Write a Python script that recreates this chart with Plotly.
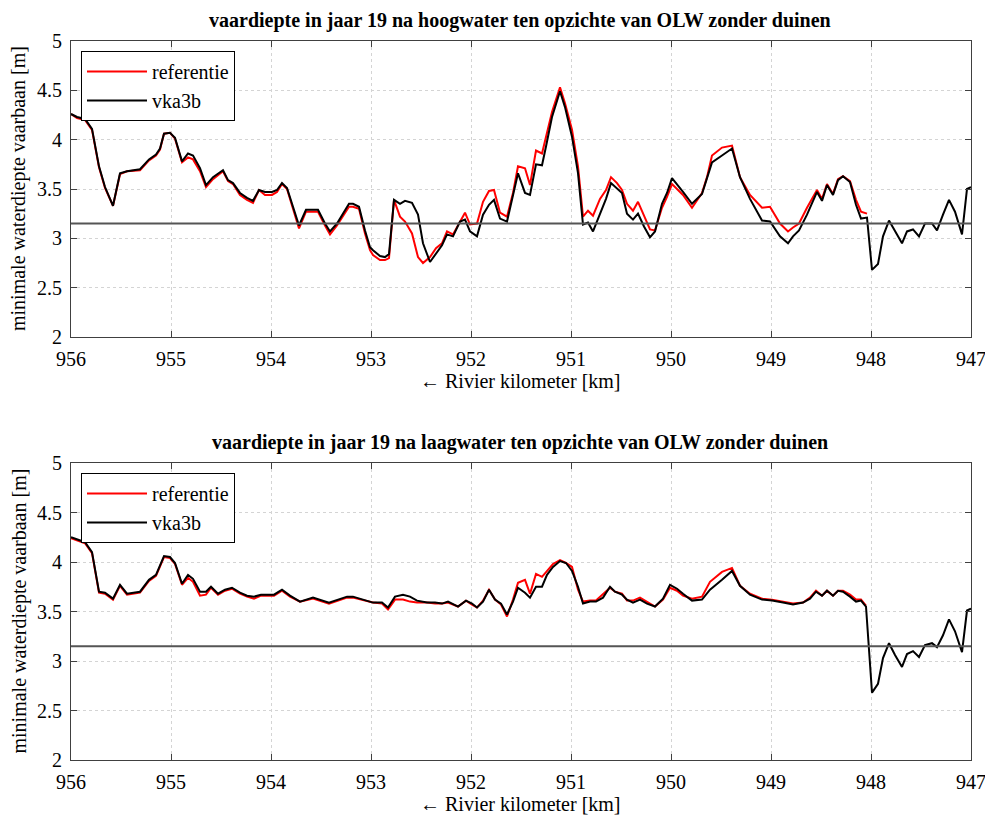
import plotly.graph_objects as go

# ---------------- data: top panel (hoogwater) ----------------
km_top = [956.00, 955.94, 955.86, 955.79, 955.72, 955.66, 955.58, 955.51, 955.44, 955.31,
          955.22, 955.15, 955.11, 955.07, 955.01, 954.96, 954.89, 954.83, 954.78, 954.71,
          954.65, 954.58, 954.48, 954.43, 954.38, 954.31, 954.24, 954.18, 954.12, 954.06,
          953.99, 953.94, 953.89, 953.84, 953.78, 953.72, 953.65, 953.58, 953.53, 953.46,
          953.41, 953.34, 953.28, 953.22, 953.18, 953.12, 953.06, 953.01, 952.98, 952.91,
          952.86, 952.82, 952.77, 952.71, 952.66, 952.59, 952.53, 952.48, 952.41, 952.35,
          952.29, 952.24, 952.18, 952.11, 952.06, 952.01, 951.94, 951.88, 951.82, 951.77,
          951.71, 951.64, 951.58, 951.53, 951.46, 951.41, 951.35, 951.29, 951.25, 951.19,
          951.11, 951.06, 950.99, 950.93, 950.88, 950.83, 950.78, 950.71, 950.65, 950.60,
          950.54, 950.49, 950.44, 950.38, 950.33, 950.27, 950.21, 950.16, 950.09, 950.04,
          949.99, 949.94, 949.88, 949.79, 949.69, 949.64, 949.59, 949.49, 949.39, 949.31,
          949.21, 949.09, 949.01, 948.91, 948.83, 948.78, 948.72, 948.64, 948.54, 948.49,
          948.44, 948.38, 948.33, 948.28, 948.21, 948.15, 948.10, 948.04, 947.99, 947.93,
          947.88, 947.82, 947.76, 947.69, 947.64, 947.58, 947.52, 947.46, 947.39, 947.34,
          947.28, 947.22, 947.16, 947.09, 947.04, 947.00]

vka_top = [4.26, 4.23, 4.21, 4.11, 3.73, 3.52, 3.33, 3.66, 3.68, 3.70,
           3.80, 3.85, 3.91, 4.06, 4.07, 4.02, 3.78, 3.86, 3.84, 3.71,
           3.54, 3.62, 3.69, 3.59, 3.56, 3.46, 3.41, 3.38, 3.49, 3.47,
           3.47, 3.49, 3.56, 3.51, 3.32, 3.13, 3.29, 3.29, 3.29, 3.15,
           3.07, 3.15, 3.25, 3.35, 3.35, 3.32, 3.08, 2.91, 2.88, 2.82,
           2.81, 2.84, 3.39, 3.35, 3.38, 3.36, 3.24, 2.95, 2.76, 2.85,
           2.93, 3.04, 3.02, 3.17, 3.19, 3.07, 3.02, 3.24, 3.34, 3.39,
           3.20, 3.17, 3.44, 3.66, 3.46, 3.44, 3.75, 3.74, 3.93, 4.23,
           4.49, 4.33, 4.03, 3.66, 3.14, 3.16, 3.07, 3.25, 3.40, 3.56,
           3.51, 3.46, 3.25, 3.19, 3.25, 3.12, 3.01, 3.07, 3.35, 3.46,
           3.61, 3.55, 3.47, 3.35, 3.45, 3.61, 3.77, 3.84, 3.91, 3.62,
           3.40, 3.18, 3.17, 3.02, 2.95, 3.02, 3.08, 3.24, 3.47, 3.38,
           3.54, 3.44, 3.59, 3.63, 3.57, 3.34, 3.20, 3.21, 2.68, 2.74,
           3.02, 3.18, 3.07, 2.95, 3.07, 3.09, 3.02, 3.15, 3.15, 3.08,
           3.24, 3.39, 3.27, 3.04, 3.50, 3.52]

ref_top = [4.26, 4.22, 4.20, 4.10, 3.72, 3.51, 3.33, 3.65, 3.68, 3.69,
           3.79, 3.84, 3.90, 4.06, 4.07, 4.01, 3.77, 3.82, 3.80, 3.68,
           3.52, 3.60, 3.68, 3.58, 3.55, 3.44, 3.39, 3.36, 3.49, 3.44,
           3.44, 3.47, 3.55, 3.50, 3.30, 3.10, 3.27, 3.27, 3.27, 3.13,
           3.04, 3.13, 3.23, 3.32, 3.32, 3.30, 3.05, 2.88, 2.83, 2.78,
           2.78, 2.80, 3.39, 3.22, 3.17, 3.05, 2.81, 2.75, 2.81, 2.90,
           2.95, 3.07, 3.04, 3.17, 3.26, 3.14, 3.15, 3.37, 3.48, 3.49,
           3.26, 3.22, 3.46, 3.73, 3.71, 3.54, 3.89, 3.86, 4.02, 4.28,
           4.53, 4.37, 4.10, 3.73, 3.22, 3.28, 3.23, 3.40, 3.49, 3.62,
           3.56, 3.49, 3.35, 3.28, 3.37, 3.23, 3.09, 3.08, 3.31, 3.42,
           3.55, 3.50, 3.44, 3.31, 3.46, 3.62, 3.84, 3.92, 3.94, 3.62,
           3.44, 3.31, 3.32, 3.15, 3.07, 3.11, 3.15, 3.31, 3.49, 3.40,
           3.55, 3.45, 3.60, 3.63, 3.58, 3.39, 3.27, 3.25, None, None,
           None, None, None, None, None, None, None, None, None, None,
           None, None, None, None, None, None]

# ---------------- data: bottom panel (laagwater) ----------------
km_bot = [956.00, 955.94, 955.86, 955.79, 955.72, 955.66, 955.58, 955.51, 955.44, 955.31,
          955.22, 955.15, 955.07, 955.01, 954.96, 954.89, 954.83, 954.78, 954.71, 954.65,
          954.60, 954.53, 954.46, 954.39, 954.31, 954.24, 954.17, 954.10, 954.04, 953.97,
          953.89, 953.81, 953.71, 953.58, 953.42, 953.33, 953.24, 953.18, 953.11, 953.04,
          952.98, 952.89, 952.83, 952.76, 952.68, 952.61, 952.54, 952.44, 952.36, 952.29,
          952.23, 952.13, 952.05, 951.99, 951.94, 951.88, 951.82, 951.76, 951.70, 951.64,
          951.58, 951.53, 951.46, 951.41, 951.35, 951.29, 951.24, 951.18, 951.11, 951.05,
          950.99, 950.93, 950.88, 950.81, 950.75, 950.68, 950.61, 950.56, 950.49, 950.44,
          950.38, 950.31, 950.24, 950.16, 950.08, 950.01, 949.94, 949.88, 949.79, 949.69,
          949.61, 949.49, 949.39, 949.31, 949.21, 949.09, 948.99, 948.88, 948.78, 948.68,
          948.61, 948.55, 948.49, 948.44, 948.38, 948.33, 948.28, 948.21, 948.15, 948.10,
          948.05, 947.99, 947.93, 947.88, 947.82, 947.76, 947.69, 947.64, 947.58, 947.52,
          947.46, 947.39, 947.34, 947.28, 947.22, 947.16, 947.09, 947.04, 947.00]

vka_bot = [4.25, 4.23, 4.20, 4.10, 3.70, 3.69, 3.63, 3.77, 3.68, 3.70,
           3.82, 3.87, 4.06, 4.05, 3.99, 3.78, 3.87, 3.83, 3.70, 3.70,
           3.75, 3.68, 3.72, 3.74, 3.69, 3.66, 3.65, 3.67, 3.67, 3.67,
           3.72, 3.66, 3.60, 3.64, 3.59, 3.62, 3.65, 3.65, 3.63, 3.61,
           3.59, 3.59, 3.54, 3.65, 3.67, 3.65, 3.61, 3.59, 3.59, 3.58,
           3.60, 3.55, 3.61, 3.58, 3.54, 3.60, 3.72, 3.62, 3.58, 3.47,
           3.60, 3.74, 3.69, 3.64, 3.75, 3.75, 3.87, 3.95, 4.01, 3.99,
           3.91, 3.75, 3.58, 3.60, 3.60, 3.64, 3.75, 3.70, 3.67, 3.62,
           3.59, 3.62, 3.58, 3.55, 3.63, 3.77, 3.73, 3.68, 3.61, 3.62,
           3.72, 3.82, 3.91, 3.76, 3.67, 3.62, 3.61, 3.59, 3.57, 3.59,
           3.63, 3.70, 3.66, 3.71, 3.66, 3.71, 3.70, 3.65, 3.60, 3.61,
           3.55, 2.68, 2.77, 3.03, 3.18, 3.06, 2.94, 3.07, 3.10, 3.04,
           3.16, 3.18, 3.14, 3.26, 3.42, 3.30, 3.09, 3.51, 3.53]

ref_bot = [4.24, 4.22, 4.19, 4.09, 3.69, 3.68, 3.62, 3.76, 3.67, 3.69,
           3.81, 3.86, 4.05, 4.04, 3.98, 3.77, 3.84, 3.80, 3.66, 3.67,
           3.74, 3.67, 3.71, 3.73, 3.68, 3.65, 3.63, 3.66, 3.66, 3.66,
           3.71, 3.65, 3.60, 3.63, 3.58, 3.61, 3.64, 3.64, 3.62, 3.60,
           3.59, 3.58, 3.52, 3.62, 3.62, 3.60, 3.59, 3.59, 3.58, 3.58,
           3.59, 3.55, 3.61, 3.57, 3.54, 3.61, 3.72, 3.62, 3.57, 3.45,
           3.62, 3.79, 3.82, 3.68, 3.88, 3.85, 3.91, 3.98, 4.02, 3.99,
           3.95, 3.72, 3.60, 3.61, 3.61, 3.68, 3.74, 3.70, 3.68, 3.61,
           3.61, 3.64, 3.60, 3.55, 3.62, 3.74, 3.71, 3.66, 3.63, 3.65,
           3.80, 3.90, 3.94, 3.76, 3.68, 3.63, 3.62, 3.60, 3.58, 3.59,
           3.64, 3.71, 3.66, 3.71, 3.66, 3.71, 3.71, 3.67, 3.62, 3.62,
           3.56, None, None, None, None, None, None, None, None, None,
           None, None, None, None, None, None, None, None, None]

threshold = 3.15
titles = ["vaardiepte in jaar 19 na hoogwater ten opzichte van OLW zonder duinen",
          "vaardiepte in jaar 19 na laagwater ten opzichte van OLW zonder duinen"]
x_title = "← Rivier kilometer [km]"
y_title = "minimale waterdiepte vaarbaan [m]"
x_ticks = [956, 955, 954, 953, 952, 951, 950, 949, 948, 947]
y_ticks = [2, 2.5, 3, 3.5, 4, 4.5, 5]

# ---------------- figure geometry (screen pixels) ----------------
OFF = 8                     # page body margin in the browser
W, H = 993 - OFF, 815 - OFF
PL, PR = 71, 971            # plot left / right on screen
L = PL - OFF
R = W - (PR - OFF)
FONT = "Liberation Serif"

def xfrac(px):
    return (px - PL) / (PR - PL)

def yfrac(py):
    return 1 - (py - OFF) / H

fig = go.Figure()

panels = [
    (km_top, ref_top, vka_top, "x", "y", "legend", (41, 337)),
    (km_bot, ref_bot, vka_bot, "x2", "y2", "legend2", (463, 760)),
]

for km, ref, vka, xa, ya, lg, _ in panels:
    fig.add_trace(go.Scatter(x=km, y=ref, mode="lines", name="referentie",
                             line=dict(color="#ff0000", width=2), xaxis=xa, yaxis=ya,
                             legend=lg, connectgaps=False))
    fig.add_trace(go.Scatter(x=km, y=vka, mode="lines", name="vka3b",
                             line=dict(color="#000000", width=2), xaxis=xa, yaxis=ya,
                             legend=lg))

axis_common = dict(showline=True, linecolor="#404040", linewidth=1, mirror="ticks",
                   ticks="inside", ticklen=6, tickcolor="#404040", automargin=False,
                   showgrid=True, gridcolor="#d4d4d4", griddash="dot", gridwidth=1,
                   zeroline=False, tickfont=dict(family=FONT, size=20, color="#000"))

layout = dict(width=W, height=H, margin=dict(l=L, r=R, t=0, b=0, pad=0, autoexpand=False),
              plot_bgcolor="white", paper_bgcolor="white",
              font=dict(family=FONT, size=20, color="#000"))

for i, (km, ref, vka, xa, ya, lg, (top, bot)) in enumerate(panels):
    xn = "xaxis" if i == 0 else "xaxis2"
    yn = "yaxis" if i == 0 else "yaxis2"
    layout[xn] = dict(axis_common, range=[956, 947], tickvals=x_ticks,
                      anchor=ya, domain=[0, 1], ticklabelstandoff=4)
    layout[yn] = dict(axis_common, range=[2, 5], tickvals=y_ticks,
                      domain=[yfrac(bot), yfrac(top)], anchor=xa, ticklabelstandoff=4)
    layout[lg] = dict(x=xfrac(81), y=yfrac(top + 10), xanchor="left", yanchor="top",
                      bordercolor="#000", borderwidth=1, bgcolor="white",
                      font=dict(family=FONT, size=20), tracegroupgap=0, itemwidth=60)

fig.update_layout(**layout)

annotations = []
for i, (km, ref, vka, xa, ya, lg, (top, bot)) in enumerate(panels):
    annotations.append(dict(text="<b>" + titles[i] + "</b>", x=xfrac(520), y=yfrac(top - 21),
                            xref="paper", yref="paper", showarrow=False,
                            font=dict(family=FONT, size=20), xanchor="center", yanchor="middle"))
    annotations.append(dict(text=x_title, x=xfrac(520), y=yfrac(bot + 44), xref="paper",
                            yref="paper", showarrow=False, font=dict(family=FONT, size=20),
                            xanchor="center", yanchor="middle"))
    annotations.append(dict(text=y_title, x=xfrac(19), y=yfrac((top + bot) / 2),
                            xref="paper", yref="paper", showarrow=False, textangle=-90,
                            font=dict(family=FONT, size=20), xanchor="center", yanchor="middle"))
    fig.add_shape(type="line", xref=xa + " domain", yref=ya, x0=0, x1=1,
                  y0=threshold, y1=threshold, line=dict(color="#555555", width=2), layer="above")

fig.update_layout(annotations=annotations)
fig.write_html("out.html")
